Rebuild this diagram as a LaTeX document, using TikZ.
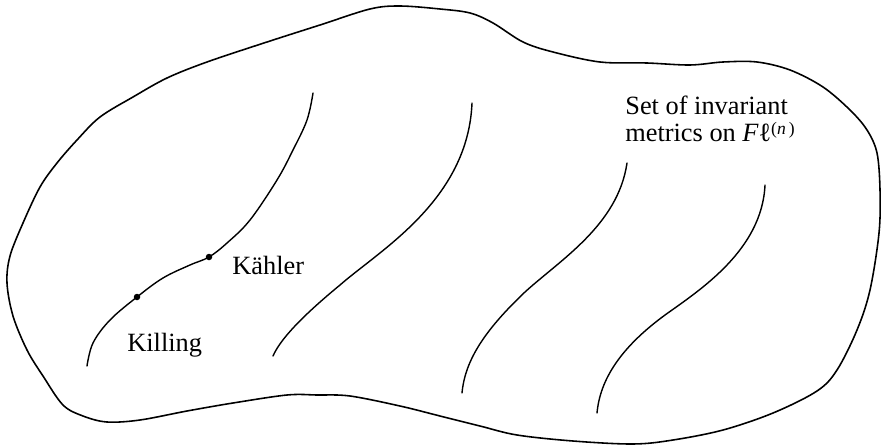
\documentclass[tikz,border=0pt]{standalone}
\usepackage{fontspec}
\setmainfont{Liberation Serif}
\begin{document}
\begin{tikzpicture}[x=0.02cm,y=-0.02cm,
  outline/.style={line width=0.9pt, line join=round},
  leaf/.style={line width=0.8pt, line cap=round},
  dotmark/.style={circle, fill=black, inner sep=0pt, minimum size=0.13cm},
  lbl/.style={anchor=base west, inner sep=0pt, font=\fontsize{15}{18}\selectfont}]
\useasboundingbox (0,0) rectangle (881,446);
% outer region
\draw[outline] plot[smooth cycle, tension=0.55] coordinates {
 (440,9) (470,13) (493,23) (523,42) (553,52) (600,62) (647,63) (690,65)
 (723,62) (757,62) (790,70) (823,87) (850,110) (867,130) (877,153) (880,190)
 (879,233) (870,290) (857,330) (837,370) (817,391) (773,413) (723,430)
 (673,440) (633,444) (573,441) (517,435) (480,426) (440,416) (400,406)
 (350,396) (317,395) (287,395) (233,403) (187,411) (140,420) (107,422)
 (83,416) (63,405) (43,376) (27,350) (13,316) (7,283) (10,256) (23,223)
 (40,187) (57,163) (77,140) (100,117) (133,97) (167,78) (207,62) (267,42)
 (320,25) (370,9) (400,6)};
% curves
\draw[leaf] plot[smooth, tension=0.6] coordinates {
 (313,93) (307,120) (293,150) (277,180) (250,220) (227,243) (209,257)
 (190,265) (163,278) (137,297) (110,320) (93,343) (87,366)};
\draw[leaf] (472,103) .. controls (468,200) and (380,250) .. (340,285)
  .. controls (300,318) and (280,340) .. (273,356);
\draw[leaf] (627,163) .. controls (618,225) and (560,260) .. (525,292)
  .. controls (485,330) and (465,360) .. (462,393);
\draw[leaf] (765,185) .. controls (762,250) and (700,290) .. (665,315)
  .. controls (620,348) and (600,380) .. (597,413);
% points
\node[dotmark] (kahlerpt) at (209,257) {};
\node[dotmark] (killingpt) at (137,297) {};
% labels
\node[lbl] (kahler) at (232,274) {Kähler};
\node[lbl] (killing) at (127,351) {Killing};
\node[lbl] (set1) at (625,114) {Set of invariant};
\node[lbl] (set2) at (625,141) {metrics on {\itshape F}ℓ\raisebox{0.55ex}{\fontsize{10}{10}\selectfont(\textit{n}\,)}};
\end{tikzpicture}
\end{document}
